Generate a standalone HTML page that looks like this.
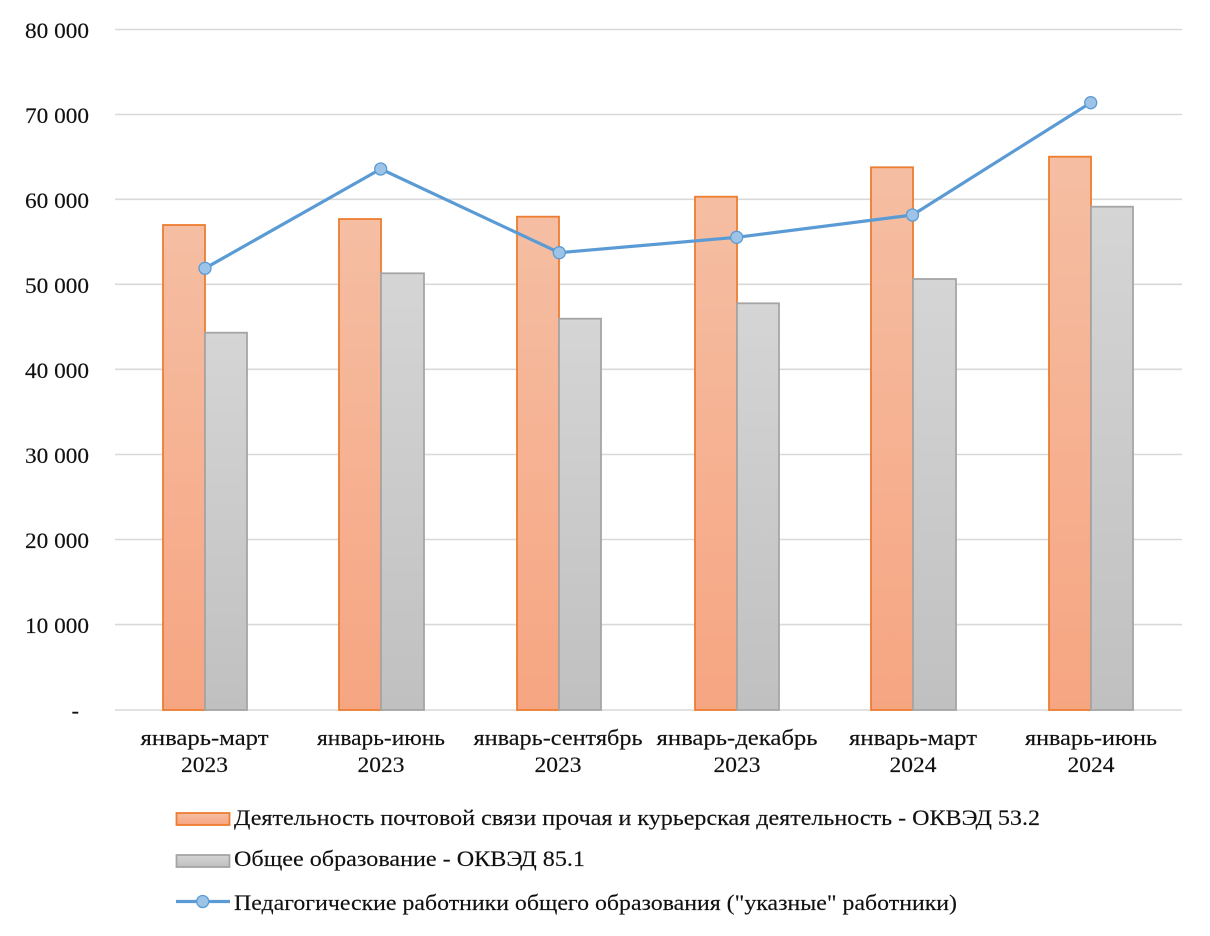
<!DOCTYPE html>
<html>
<head>
<meta charset="utf-8">
<style>
  html,body{margin:0;padding:0;background:#fff;}
  svg{display:block;}
  text{font-family:"Liberation Serif","Noto Serif CJK SC",serif;fill:#111;stroke:#111;stroke-width:0.15;}
</style>
</head>
<body>
<svg width="1210" height="936" viewBox="0 0 1210 936" xmlns="http://www.w3.org/2000/svg">
  <defs>
    <linearGradient id="og" x1="0" y1="0" x2="0" y2="1">
      <stop offset="0" stop-color="#f5bea3"/>
      <stop offset="1" stop-color="#f6a581"/>
    </linearGradient>
    <linearGradient id="gg" x1="0" y1="0" x2="0" y2="1">
      <stop offset="0" stop-color="#d5d5d5"/>
      <stop offset="1" stop-color="#c0c0c0"/>
    </linearGradient>
  </defs>
  <rect width="1210" height="936" fill="#fff"/>

  <!-- gridlines -->
  <g stroke="#d9d9d9" stroke-width="1.6">
    <line x1="115" y1="29.5" x2="1182" y2="29.5"/>
    <line x1="115" y1="114.5" x2="1182" y2="114.5"/>
    <line x1="115" y1="199.3" x2="1182" y2="199.3"/>
    <line x1="115" y1="284.3" x2="1182" y2="284.3"/>
    <line x1="115" y1="369.3" x2="1182" y2="369.3"/>
    <line x1="115" y1="454.5" x2="1182" y2="454.5"/>
    <line x1="115" y1="539.5" x2="1182" y2="539.5"/>
    <line x1="115" y1="624.6" x2="1182" y2="624.6"/>
    <line x1="115" y1="710" x2="1182" y2="710"/>
  </g>

  <!-- y labels -->
  <g font-size="22" text-anchor="end">
    <text x="89" y="38" textLength="64" lengthAdjust="spacingAndGlyphs">80 000</text>
    <text x="89" y="123" textLength="64" lengthAdjust="spacingAndGlyphs">70 000</text>
    <text x="89" y="208" textLength="64" lengthAdjust="spacingAndGlyphs">60 000</text>
    <text x="89" y="293" textLength="64" lengthAdjust="spacingAndGlyphs">50 000</text>
    <text x="89" y="378" textLength="64" lengthAdjust="spacingAndGlyphs">40 000</text>
    <text x="89" y="463" textLength="64" lengthAdjust="spacingAndGlyphs">30 000</text>
    <text x="89" y="548" textLength="64" lengthAdjust="spacingAndGlyphs">20 000</text>
    <text x="89" y="633" textLength="64" lengthAdjust="spacingAndGlyphs">10 000</text>
    <text x="79" y="718">-</text>
  </g>

  <!-- orange bars -->
  <g fill="url(#og)" stroke="#ed7d31" stroke-width="1.8">
    <rect x="163" y="225" width="42" height="485"/>
    <rect x="339" y="219" width="42" height="491"/>
    <rect x="517" y="216.7" width="42" height="493.3"/>
    <rect x="695" y="196.7" width="42" height="513.3"/>
    <rect x="871" y="167.3" width="42" height="542.7"/>
    <rect x="1049" y="156.7" width="42" height="553.3"/>
  </g>
  <!-- gray bars -->
  <g fill="url(#gg)" stroke="#a5a5a5" stroke-width="1.8">
    <rect x="205" y="332.7" width="42" height="377.3"/>
    <rect x="381" y="273.3" width="43" height="436.7"/>
    <rect x="559" y="318.7" width="42" height="391.3"/>
    <rect x="737" y="303.3" width="42" height="406.7"/>
    <rect x="913" y="279" width="43" height="431"/>
    <rect x="1091" y="206.7" width="42" height="503.3"/>
  </g>

  <!-- line -->
  <polyline points="205,268.3 380.7,169 559.3,252.7 736.7,237.3 912.5,215 1090.7,102.7" fill="none" stroke="#5b9bd5" stroke-width="3.2" stroke-linejoin="round"/>
  <g fill="#9dc3e6" stroke="#5b9bd5" stroke-width="1.3">
    <circle cx="205" cy="268.3" r="6"/>
    <circle cx="380.7" cy="169" r="6"/>
    <circle cx="559.3" cy="252.7" r="6"/>
    <circle cx="736.7" cy="237.3" r="6"/>
    <circle cx="912.5" cy="215" r="6"/>
    <circle cx="1090.7" cy="102.7" r="6"/>
  </g>

  <!-- x labels -->
  <g font-size="22" text-anchor="middle">
    <text x="204.5" y="745" textLength="128" lengthAdjust="spacingAndGlyphs">январь-март</text>
    <text x="204.5" y="772" textLength="47" lengthAdjust="spacingAndGlyphs">2023</text>
    <text x="381" y="745" textLength="128" lengthAdjust="spacingAndGlyphs">январь-июнь</text>
    <text x="381" y="772" textLength="47" lengthAdjust="spacingAndGlyphs">2023</text>
    <text x="558" y="745" textLength="169" lengthAdjust="spacingAndGlyphs">январь-сентябрь</text>
    <text x="558" y="772" textLength="47" lengthAdjust="spacingAndGlyphs">2023</text>
    <text x="737" y="745" textLength="161" lengthAdjust="spacingAndGlyphs">январь-декабрь</text>
    <text x="737" y="772" textLength="47" lengthAdjust="spacingAndGlyphs">2023</text>
    <text x="913" y="745" textLength="128" lengthAdjust="spacingAndGlyphs">январь-март</text>
    <text x="913" y="772" textLength="47" lengthAdjust="spacingAndGlyphs">2024</text>
    <text x="1091" y="745" textLength="132" lengthAdjust="spacingAndGlyphs">январь-июнь</text>
    <text x="1091" y="772" textLength="47" lengthAdjust="spacingAndGlyphs">2024</text>
  </g>

  <!-- legend -->
  <rect x="176.5" y="813" width="53" height="12" fill="url(#og)" stroke="#ed7d31" stroke-width="1.8"/>
  <text x="234" y="825" font-size="22" textLength="806" lengthAdjust="spacingAndGlyphs">Деятельность  почтовой связи прочая и  курьерская деятельность - ОКВЭД 53.2</text>
  <rect x="176.5" y="855" width="53" height="12" fill="url(#gg)" stroke="#a5a5a5" stroke-width="1.8"/>
  <text x="234" y="866" font-size="22" textLength="351" lengthAdjust="spacingAndGlyphs">Общее образование - ОКВЭД 85.1</text>
  <line x1="176" y1="901.5" x2="230" y2="901.5" stroke="#5b9bd5" stroke-width="3.2"/>
  <circle cx="202.7" cy="901.5" r="6" fill="#9dc3e6" stroke="#5b9bd5" stroke-width="1.3"/>
  <text x="234" y="910" font-size="22" textLength="723" lengthAdjust="spacingAndGlyphs">Педагогические  работники общего образования ("указные" работники)</text>
</svg>
</body>
</html>
